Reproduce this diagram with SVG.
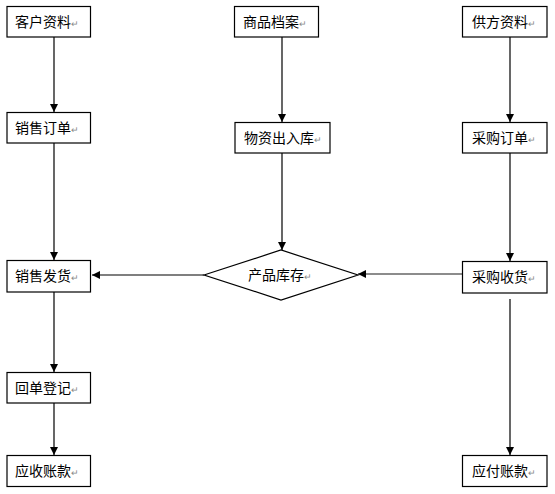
<svg xmlns="http://www.w3.org/2000/svg" width="555" height="494" viewBox="0 0 555 494">
<defs>
<style>
.box{fill:#fff;stroke:#000;stroke-width:1.2}
.t{font-family:"Noto Sans CJK SC","Noto Sans",sans-serif;font-size:14px;fill:#000}
.r{font-size:9px;fill:#888}
.ln{stroke:#000;stroke-width:1.2;fill:none}
.gl{stroke:#666;stroke-width:1.6;fill:none}
</style>
<marker id="ah" viewBox="0 0 10 10" refX="10" refY="5" markerWidth="8" markerHeight="8" markerUnits="userSpaceOnUse" orient="auto">
<path d="M0,0 L10,5 L0,10 Z" fill="#000"/>
</marker>
</defs>
<rect width="555" height="494" fill="#fff"/>
<g id="connectors">
<line class="ln" x1="54" y1="37" x2="54" y2="112" marker-end="url(#ah)"/>
<line class="ln" x1="282" y1="37" x2="282" y2="122" marker-end="url(#ah)"/>
<line class="ln" x1="510" y1="37" x2="510" y2="122" marker-end="url(#ah)"/>
<line class="ln" x1="54" y1="143" x2="54" y2="260" marker-end="url(#ah)"/>
<line class="ln" x1="282" y1="153" x2="282" y2="250" marker-end="url(#ah)"/>
<line class="ln" x1="510" y1="153" x2="510" y2="261" marker-end="url(#ah)"/>
<line class="ln" x1="204" y1="275" x2="92" y2="275" marker-end="url(#ah)"/>
<line class="gl" x1="462" y1="274" x2="358" y2="274" marker-end="url(#ah)"/>
<line class="ln" x1="54" y1="292" x2="54" y2="372" marker-end="url(#ah)"/>
<line class="ln" x1="54" y1="403" x2="54" y2="455" marker-end="url(#ah)"/>
<line class="ln" x1="510" y1="299" x2="510" y2="455" marker-end="url(#ah)"/>
</g>
<g id="n1"><rect class="box" x="7" y="6.5" width="83.5" height="30.5"/><text class="t" x="15" y="27">客户资料<tspan class="r">↵</tspan></text></g>
<g id="n2"><rect class="box" x="234.5" y="6.5" width="84" height="30.5"/><text class="t" x="243" y="27">商品档案<tspan class="r">↵</tspan></text></g>
<g id="n3"><rect class="box" x="462.5" y="6.5" width="84.5" height="30.5"/><text class="t" x="472" y="27">供方资料<tspan class="r">↵</tspan></text></g>
<g id="n4"><rect class="box" x="7" y="112.5" width="83.5" height="30.5"/><text class="t" x="15" y="133">销售订单<tspan class="r">↵</tspan></text></g>
<g id="n5"><rect class="box" x="235" y="122.5" width="95" height="30.5"/><text class="t" x="244" y="143">物资出入库<tspan class="r">↵</tspan></text></g>
<g id="n6"><rect class="box" x="462.5" y="122.5" width="84.5" height="30.5"/><text class="t" x="472" y="143">采购订单<tspan class="r">↵</tspan></text></g>
<g id="n7"><rect class="box" x="7" y="260.5" width="83.5" height="31.5"/><text class="t" x="15" y="281">销售发货<tspan class="r">↵</tspan></text></g>
<g id="n8"><polygon class="box" points="204,275 281,250 358,275 281,300"/><text class="t" x="248" y="280">产品库存<tspan class="r">↵</tspan></text></g>
<g id="n9"><rect class="box" x="462.5" y="261.5" width="84.5" height="31.5"/><text class="t" x="472" y="282">采购收货<tspan class="r">↵</tspan></text></g>
<g id="n10"><rect class="box" x="7" y="372.5" width="83.5" height="30.5"/><text class="t" x="15" y="393">回单登记<tspan class="r">↵</tspan></text></g>
<g id="n11"><rect class="box" x="7" y="455.5" width="83.5" height="31"/><text class="t" x="15" y="476">应收账款<tspan class="r">↵</tspan></text></g>
<g id="n12"><rect class="box" x="462.5" y="455.5" width="84.5" height="31"/><text class="t" x="472" y="476">应付账款<tspan class="r">↵</tspan></text></g>
</svg>
